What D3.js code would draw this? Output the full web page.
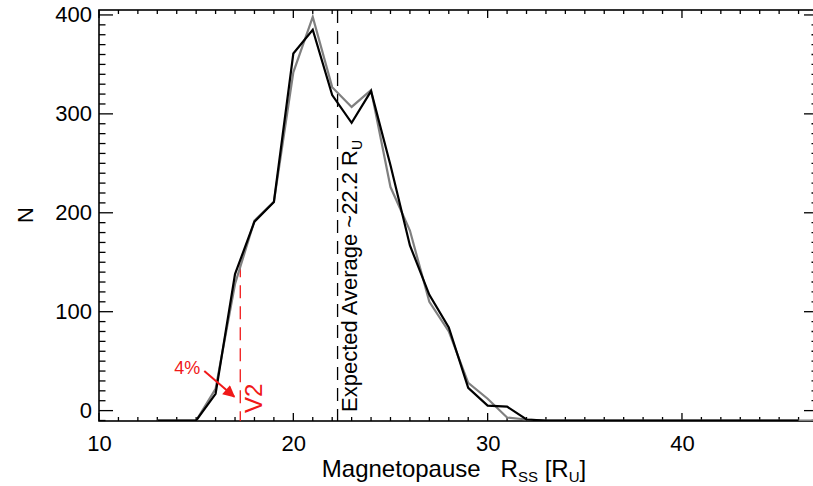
<!DOCTYPE html>
<html>
<head>
<meta charset="utf-8">
<script src="https://cdn.jsdelivr.net/npm/d3@7"></script>
<style>
  body { margin: 0; background: #fff; }
  svg { display: block; font-family: "Liberation Sans", Arial, Helvetica, sans-serif; }
</style>
</head>
<body>
<div id="chart"></div>
<script>
// bin centres (R_U) and counts; -10 = bins sitting on the floor
const binCenters = d3.range(13, 48);
const blackCounts = [-10, -10, -10, 17, 138, 191, 211, 361, 385, 319, 291, 323, 248, 167, 117, 84, 23, 5, 4, -9,
  -10, -10, -10, -10, -10, -10, -10, -10, -10, -10, -10, -10, -10, -10];
const grayCounts = [-10, -10, -10, 22, 128, 192, 211, 342, 398, 327, 307, 324, 226, 182, 110, 80, 28, 12, -7, -9,
  -10, -10, -10, -10, -10, -10, -10, -10, -10, -10, -10, -10, -10, -10, -10];

const xTicks = [10, 20, 30, 40];
const yTicks = [0, 100, 200, 300, 400];
const expectedAvg = 22.2;
const v2Pos = 17.27;
const v2Top = 148;

const width = 813, height = 486;
const margin = { top: 10, right: -5, bottom: 65, left: 99 };
const innerW = width - margin.left - margin.right;
const innerH = height - margin.top - margin.bottom;

const svg = d3.select("#chart").append("svg")
  .attr("width", width)
  .attr("height", height);

const g = svg.append("g")
  .attr("transform", `translate(${margin.left},${margin.top})`);

const x = d3.scaleLinear().domain([10, 47]).range([0, innerW]);
const y = d3.scaleLinear().domain([-10.5, 405]).range([innerH, 0]);

g.append("clipPath").attr("id", "clip")
  .append("rect").attr("width", innerW).attr("height", innerH);

// minor + major ticks on all four sides (IDL style, pointing inward)
const xMinor = d3.range(10, 48, 1);
const yMinor = d3.range(-10, 406, 10);
const tickW = 1.3;

function drawTicks() {
  const t = g.append("g").attr("stroke", "#000").attr("stroke-width", tickW);
  xMinor.forEach(v => {
    const len = xTicks.includes(v) ? 8 : 4;
    t.append("line").attr("x1", x(v)).attr("x2", x(v)).attr("y1", innerH).attr("y2", innerH - len);
    t.append("line").attr("x1", x(v)).attr("x2", x(v)).attr("y1", 0).attr("y2", len);
  });
  yMinor.forEach(v => {
    const len = yTicks.includes(v) ? 14 : 6.5;
    t.append("line").attr("x1", 0).attr("x2", len).attr("y1", y(v)).attr("y2", y(v));
    t.append("line").attr("x1", innerW).attr("x2", innerW - len).attr("y1", y(v)).attr("y2", y(v));
  });
}
drawTicks();

// axes with labels only (ticks drawn above)
const gx = g.append("g")
  .attr("transform", `translate(0,${innerH})`)
  .call(d3.axisBottom(x).tickValues(xTicks).tickSize(0).tickPadding(14));
const gy = g.append("g")
  .call(d3.axisLeft(y).tickValues(yTicks).tickSize(0).tickPadding(7));
[gx, gy].forEach(a => {
  a.select(".domain").remove();
  a.selectAll("text").attr("font-size", 22).attr("fill", "#000")
    .attr("font-family", "Liberation Sans, Arial, sans-serif");
});

// frame
g.append("rect")
  .attr("width", innerW).attr("height", innerH)
  .attr("fill", "none").attr("stroke", "#000").attr("stroke-width", 1.6);

const plot = g.append("g").attr("clip-path", "url(#clip)");

// expected average
plot.append("line")
  .attr("x1", x(expectedAvg) + 1.5).attr("x2", x(expectedAvg) + 1.5)
  .attr("y1", 0).attr("y2", innerH)
  .attr("stroke", "#000").attr("stroke-width", 1.3)
  .attr("stroke-dasharray", "13,8");

// V2 marker
plot.append("line")
  .attr("x1", x(v2Pos)).attr("x2", x(v2Pos))
  .attr("y1", y(v2Top)).attr("y2", innerH)
  .attr("stroke", "#f01818").attr("stroke-width", 1.3)
  .attr("stroke-dasharray", "13,8");

const line = d3.line().x(d => x(d[0])).y(d => y(d[1]));

plot.append("path")
  .datum(binCenters.map((c, i) => [c, grayCounts[i]]).filter(d => d[1] !== undefined))
  .attr("d", line)
  .attr("fill", "none").attr("stroke", "#808080").attr("stroke-width", 2.2);

plot.append("path")
  .datum(binCenters.map((c, i) => [c, blackCounts[i]]).filter(d => d[1] !== undefined))
  .attr("d", line)
  .attr("fill", "none").attr("stroke", "#000").attr("stroke-width", 2.2);

// annotations
const avgLabel = g.append("text")
  .attr("transform", `translate(${x(expectedAvg) + 21},${innerH - 9}) rotate(-90)`)
  .attr("font-size", 22);
avgLabel.append("tspan").text("Expected Average ~22.2 R");
avgLabel.append("tspan").attr("font-size", 14).attr("dy", 5).text("U");

g.append("text")
  .attr("transform", `translate(${x(v2Pos) + 22},${innerH - 8}) rotate(-90)`)
  .attr("font-size", 24).attr("fill", "#f01818")
  .text("V2");

g.append("text")
  .attr("x", x(v2Pos) - 66).attr("y", y(37))
  .attr("font-size", 18).attr("fill", "#f01818")
  .text("4%");

svg.append("defs").append("marker")
  .attr("id", "arrow")
  .attr("viewBox", "0 0 10 10")
  .attr("refX", 9).attr("refY", 5)
  .attr("markerWidth", 6.5).attr("markerHeight", 6)
  .attr("orient", "auto")
  .append("path").attr("d", "M0,0L10,5L0,10z").attr("fill", "#f01818");

g.append("line")
  .attr("x1", x(v2Pos) - 36).attr("y1", y(40))
  .attr("x2", x(v2Pos) - 6).attr("y2", y(14))
  .attr("stroke", "#f01818").attr("stroke-width", 2)
  .attr("marker-end", "url(#arrow)");

// axis titles
const xt = svg.append("text")
  .attr("x", 454).attr("y", 477)
  .attr("text-anchor", "middle").attr("font-size", 24);
xt.append("tspan").text("Magnetopause\u00a0\u00a0\u00a0R");
xt.append("tspan").attr("font-size", 15).attr("dy", 5).text("SS");
xt.append("tspan").attr("dy", -5).text(" [R");
xt.append("tspan").attr("font-size", 15).attr("dy", 5).text("U");
xt.append("tspan").attr("dy", -5).text("]");

svg.append("text")
  .attr("transform", "translate(33,215) rotate(-90)")
  .attr("text-anchor", "middle").attr("font-size", 22)
  .text("N");
</script>
</body>
</html>
